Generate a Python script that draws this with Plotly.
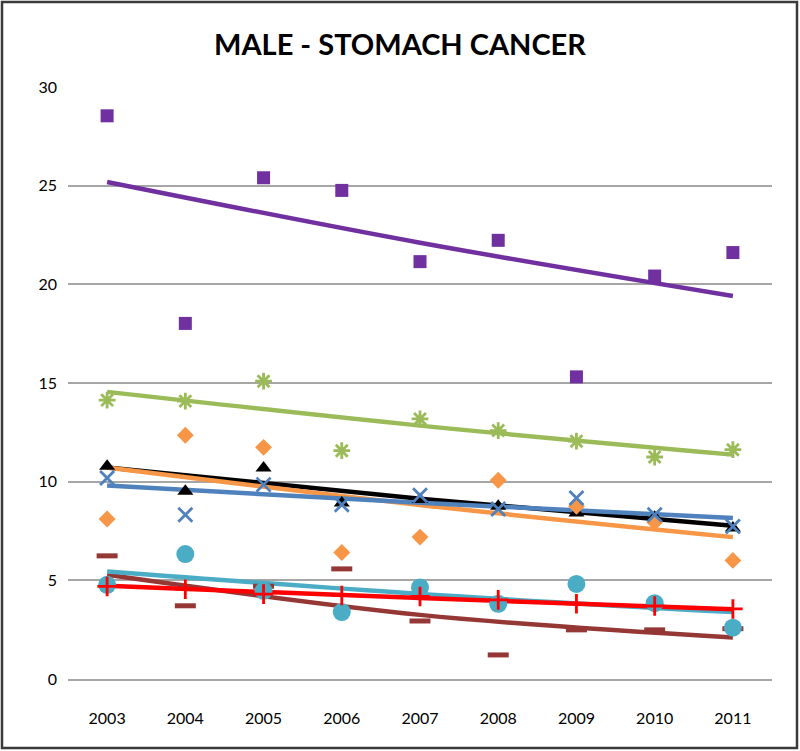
import plotly.graph_objects as go

years = ['2003', '2004', '2005', '2006', '2007', '2008', '2009', '2010', '2011']

purple = [28.54, 18.02, 25.40, 24.76, 21.15, 22.23, 15.31, 20.42, 21.61]
green = [14.13, 14.08, 15.09, 11.57, 13.18, 12.59, 12.05, 11.25, 11.62]
black = [10.78, 9.51, 10.69, 8.92, 9.09, 8.75, 8.41, 8.20, 7.65]
blue = [10.19, 8.32, 9.85, 8.83, 9.31, 8.61, 9.17, 8.32, 7.73]
orange = [8.11, 12.35, 11.74, 6.41, 7.19, 10.07, 8.75, 7.94, 6.01]
teal = [4.77, 6.33, 4.47, 3.39, 4.64, 3.81, 4.82, 3.84, 2.60]
red = [4.69, 4.55, 4.30, 4.23, 4.18, 4.01, 3.81, 3.70, 3.55]
brown = [6.24, 3.71, 4.70, 5.58, 2.94, 1.22, 2.49, 2.49, 2.55]

# trend lines (start, middle, end)
trend_years = ['2003', '2007', '2011']
purple_trend = [25.19, 22.11, 19.41]
green_trend = [14.55, 12.84, 11.37]
black_trend = [10.72, 9.14, 7.77]
blue_trend = [9.80, 8.93, 8.16]
orange_trend = [10.72, 8.82, 7.19]
teal_trend = [5.45, 4.31, 3.39]
red_trend = [4.72, 4.10, 3.54]
brown_trend = [5.28, 3.25, 2.10]

series = [
    # values, trend, colour, symbol, size, filled
    (purple, purple_trend, '#7030A0', 'square', 13, True),
    (green, green_trend, '#9BBB59', 'asterisk-open', 14, False),
    (black, black_trend, '#000000', 'triangle-up', 14, True),
    (orange, orange_trend, '#F79646', 'diamond', 13, True),
    (blue, blue_trend, '#4F81BD', 'x-thin-open', 14, False),
    (brown, brown_trend, '#953735', 'line-ew-open', 15, False),
    (teal, teal_trend, '#4BACC6', 'circle', 18, True),
    (red, red_trend, '#FF0000', 'cross-thin-open', 14, False),
]

fig = go.Figure()

# trend lines first so the markers sit on top
for vals, trend, col, sym, size, filled in series:
    fig.add_trace(go.Scatter(x=trend_years, y=trend, mode='lines',
                             line=dict(color=col, width=4.5, shape='spline'),
                             hoverinfo='skip'))

for vals, trend, col, sym, size, filled in series:
    if filled:
        marker = dict(symbol=sym, size=size, color=col, line=dict(width=0))
    else:
        lw = 5 if sym == 'line-ew-open' else 2.8
        marker = dict(symbol=sym, size=size, color=col, line=dict(color=col, width=lw))
    fig.add_trace(go.Scatter(x=years, y=vals, mode='markers', marker=marker))

fig.update_layout(
    width=800, height=751,
    margin=dict(l=68, r=28, t=87, b=72, autoexpand=False),
    paper_bgcolor='white', plot_bgcolor='white',
    showlegend=False,
    font=dict(family='Lato, Open Sans, sans-serif', size=16, color='#000000'),
    title=dict(text='<b>MALE - STOMACH CANCER</b>', x=0.5, xanchor='center',
               y=1 - 45 / 751, yanchor='middle',
               font=dict(family='Lato, Open Sans, sans-serif', size=29, color='#000000')),
)

fig.update_xaxes(type='category', categoryorder='array', categoryarray=years,
                 range=[-0.5, len(years) - 0.5],
                 showgrid=False, showline=True, linecolor='#A6A6A6', automargin=False,
                 linewidth=2, ticks='', ticklabelstandoff=24, zeroline=False)
fig.update_yaxes(range=[0, 30], dtick=5, showgrid=True, gridcolor='#A6A6A6', gridwidth=2,
                 zeroline=False, showline=False, ticks='', ticklabelstandoff=10,
                 automargin=False)

# outer border of the chart
fig.add_shape(type='rect', xref='paper', yref='paper',
              x0=-66 / 704, x1=729 / 704, y0=(679 - 748) / 592, y1=(679 - 2) / 592,
              line=dict(color='#3A3A3A', width=2.5), fillcolor='rgba(0,0,0,0)', layer='above')

fig.write_html("out.html", config={'displayModeBar': False},
               post_script="document.body.style.margin='0';")
